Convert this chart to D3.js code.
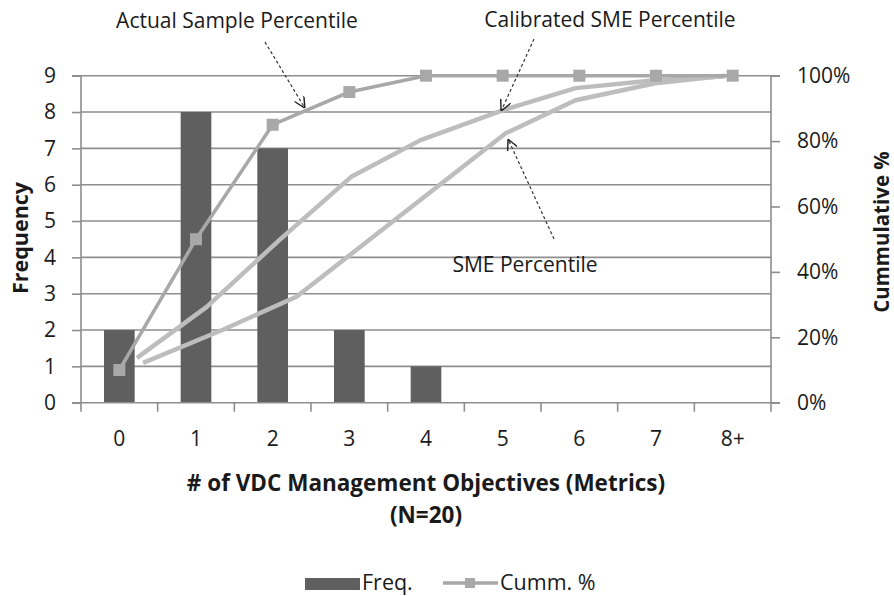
<!DOCTYPE html>
<html><head><meta charset="utf-8">
<script src="https://cdn.jsdelivr.net/npm/d3@7"></script>
<style>
body{margin:0;background:#fff;}
svg text{font-family:"Open Sans",sans-serif;fill:#1a1a1a;}
</style></head>
<body><svg id="c" width="894" height="596"></svg>
<script>
// ---- data ----
const categories = ["0","1","2","3","4","5","6","7","8+"];
const freq = [2, 8, 7, 2, 1, 0, 0, 0, 0];
const cummPct = [10, 50, 85, 95, 100, 100, 100, 100, 100];
// SME curves: [category position, percent]
const calibratedX = [0.23, 1.14, 2.09, 3.02, 3.93, 4.97, 5.95, 6.99, 7.9];
const calibratedY = [13.7, 29.3, 49.8, 69.0, 80.3, 89.2, 96.2, 98.6, 99.8];
const smeX = [0.31, 1.35, 2.31, 5.04, 5.95, 6.99, 7.9];
const smeY = [12.2, 22.3, 32.4, 82.4, 92.5, 97.7, 100];
const freqTicks = [0,1,2,3,4,5,6,7,8,9];
const pctTicks = [0,20,40,60,80,100];
const annotations = ["Actual Sample Percentile","Calibrated SME Percentile","SME Percentile"];
const xTitle = ["# of VDC Management Objectives (Metrics)","(N=20)"];
const legendLabels = ["Freq.","Cumm. %"];

// ---- layout ----
const svg = d3.select("#c");
const L = 81, R = 771, T = 75.7, B = 402.7;
const x = d3.scaleBand().domain(categories).range([L, R]).paddingInner(0).paddingOuter(0);
const bw = x.bandwidth();
const xc = d3.scaleLinear().domain([0, categories.length-1]).range([L + bw/2, R - bw/2]);
const yF = d3.scaleLinear().domain([0, 9]).range([B, T]);
const yP = d3.scaleLinear().domain([0, 100]).range([B, T]);
const gridCol = "#8e8e8e";

// gridlines
svg.append("g").selectAll("line").data(freqTicks.slice(1)).join("line")
  .attr("x1", L).attr("x2", R).attr("y1", d=>yF(d)).attr("y2", d=>yF(d))
  .attr("stroke", gridCol).attr("stroke-width", 1.6);

// bars
const barW = bw * 0.4;
svg.append("g").selectAll("rect").data(freq.map((v,i)=>({c:categories[i],v}))).join("rect")
  .attr("x", d=>x(d.c) + (bw-barW)/2).attr("width", barW)
  .attr("y", d=>yF(d.v)).attr("height", d=>B - yF(d.v))
  .attr("fill", "#5f5f5f");

// axes
const axL = svg.append("g").attr("transform", `translate(${L},0)`)
  .call(d3.axisLeft(yF).tickValues(freqTicks).tickSize(9).tickPadding(16).tickFormat(d3.format("d")));
const axR = svg.append("g").attr("transform", `translate(${R},0)`)
  .call(d3.axisRight(yP).tickValues(pctTicks).tickSize(9).tickPadding(17).tickFormat(d=>d+"%"));
const axB = svg.append("g").attr("transform", `translate(0,${B})`)
  .call(d3.axisBottom(x).tickSize(0).tickPadding(28));
// bottom ticks at band boundaries
svg.append("g").selectAll("line").data(d3.range(categories.length+1)).join("line")
  .attr("x1", i=>L + i*bw).attr("x2", i=>L + i*bw).attr("y1", B).attr("y2", B+9)
  .attr("stroke", gridCol).attr("stroke-width", 1.6);
[axL, axR, axB].forEach(a=>{
  a.selectAll(".domain").attr("stroke", gridCol).attr("stroke-width", 1.6);
  a.selectAll(".tick line").attr("stroke", gridCol).attr("stroke-width", 1.6);
  a.selectAll("text").style("font-size","21px").attr("fill","#1a1a1a");
});
axR.select(".domain").attr("d", `M9,${T}H0V${B}H9`);
axL.select(".domain").attr("d", `M-9,${T}H0V${B}H-9`);
axB.select(".domain").attr("d", `M${L},0H${R}`);

// SME curves
const lineGen = d3.line().x(d=>xc(d[0])).y(d=>yP(d[1]));
svg.append("path").datum(calibratedX.map((v,i)=>[v, calibratedY[i]]))
  .attr("d", lineGen).attr("fill","none").attr("stroke","#bdbdbd").attr("stroke-width",4.5).attr("stroke-linejoin","round");
svg.append("path").datum(smeX.map((v,i)=>[v, smeY[i]]))
  .attr("d", lineGen).attr("fill","none").attr("stroke","#bdbdbd").attr("stroke-width",4.5).attr("stroke-linejoin","round");

// cumulative line
const cumm = cummPct.map((v,i)=>[i, v]);
svg.append("path").datum(cumm).attr("d", lineGen)
  .attr("fill","none").attr("stroke","#a8a8a8").attr("stroke-width",3.5);
const ms = 12;
svg.append("g").selectAll("rect").data(cumm).join("rect")
  .attr("x", d=>xc(d[0]) - ms/2).attr("y", d=>yP(d[1]) - ms/2)
  .attr("width", ms).attr("height", ms).attr("fill","#a8a8a8");

// axis titles
svg.append("text").attr("transform", `translate(28,238) rotate(-90)`)
  .attr("text-anchor","middle").style("font-size","21.5px").style("font-weight","bold").text("Frequency");
svg.append("text").attr("transform", `translate(889,232) rotate(-90)`)
  .attr("text-anchor","middle").style("font-size","20.5px").style("font-weight","bold").text("Cummulative %");
svg.append("text").attr("x", 426).attr("y", 491).attr("text-anchor","middle")
  .style("font-size","22.5px").style("font-weight","bold").text(xTitle[0]);
svg.append("text").attr("x", 426).attr("y", 523).attr("text-anchor","middle")
  .style("font-size","22.5px").style("font-weight","bold").text(xTitle[1]);

// annotations
const defs = svg.append("defs");
defs.append("marker").attr("id","arr").attr("viewBox","0 0 10 10").attr("refX",10).attr("refY",5)
  .attr("markerWidth",11).attr("markerHeight",11).attr("markerUnits","userSpaceOnUse").attr("orient","auto")
  .append("path").attr("d","M0,0L10,5L0,10").attr("fill","none").attr("stroke","#222").attr("stroke-width",1.3);
const ann = [
  {t:annotations[0], tx:237, ty:28, x1:265, y1:42, px:2.42, py:90.1},
  {t:annotations[1], tx:610, ty:27, x1:534, y1:39, px:4.98, py:89.2},
  {t:annotations[2], tx:525, ty:272, x1:554, y1:239, px:5.07, py:80.6}
];
ann.forEach(a=>{
  svg.append("text").attr("x",a.tx).attr("y",a.ty).attr("text-anchor","middle")
    .style("font-size","21px").text(a.t);
  svg.append("line").attr("x1",a.x1).attr("y1",a.y1).attr("x2",xc(a.px)).attr("y2",yP(a.py))
    .attr("stroke","#333").attr("stroke-width",1.2).attr("stroke-dasharray","3,2.5")
    .attr("marker-end","url(#arr)");
});

// legend
const lg = svg.append("g");
lg.append("rect").attr("x",305).attr("y",578).attr("width",55).attr("height",12).attr("fill","#5f5f5f");
lg.append("text").attr("x",362).attr("y",590).style("font-size","21.5px").text(legendLabels[0]);
lg.append("line").attr("x1",443).attr("x2",498).attr("y1",583).attr("y2",583).attr("stroke","#a8a8a8").attr("stroke-width",3.5);
lg.append("rect").attr("x",470-5).attr("y",583-5).attr("width",10).attr("height",10).attr("fill","#a8a8a8");
lg.append("text").attr("x",500).attr("y",590).style("font-size","21.5px").text(legendLabels[1]);
</script></body></html>
